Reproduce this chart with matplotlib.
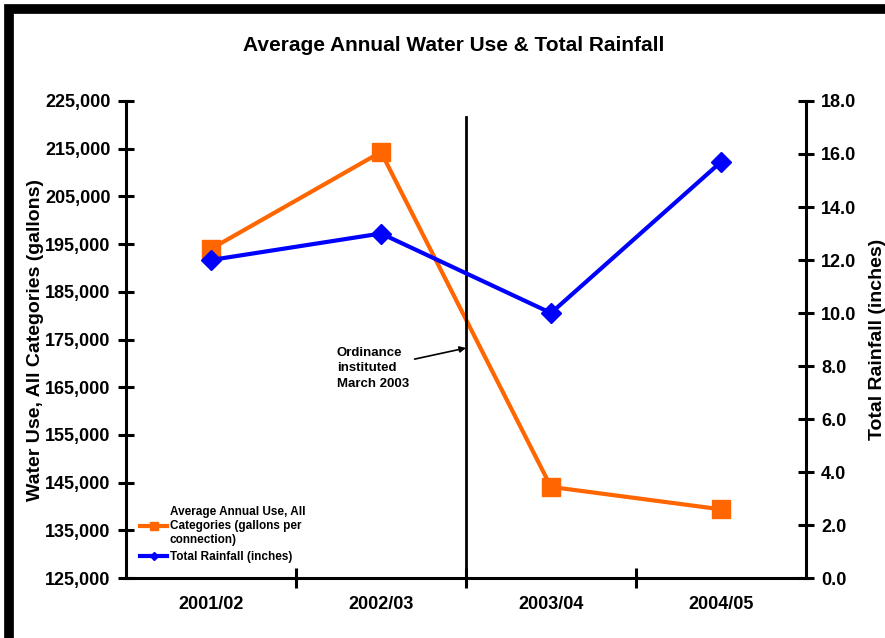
import matplotlib.pyplot as plt
from matplotlib.patches import Rectangle
from matplotlib.ticker import FuncFormatter

plt.rcParams['font.family'] = ['Liberation Sans', 'DejaVu Sans']
plt.rcParams['font.weight'] = 'bold'
plt.rcParams['axes.labelweight'] = 'bold'

# data
years = ['2001/02', '2002/03', '2003/04', '2004/05']
water_use = [194000, 214300, 144100, 139400]
rainfall = [12.0, 13.0, 10.0, 15.7]

fig = plt.figure(figsize=(8.85, 6.38), dpi=100)
ax = fig.add_axes([0.1424, 0.094, 0.7683, 0.7477])
ax2 = ax.twinx()

x = range(len(years))

l1, = ax.plot(x, water_use, color='#FF6600', lw=3, marker='s', ms=13,
              label='Average Annual Use, All\nCategories (gallons per\nconnection)', zorder=3)
l2, = ax2.plot(x, rainfall, color='#0000FF', lw=3, marker='D', ms=10,
               label='Total Rainfall (inches)', zorder=3)

ax.set_xlim(-0.5, 3.5)
ax.set_ylim(125000, 225000)
ax.set_yticks(range(125000, 225001, 10000))
ax.yaxis.set_major_formatter(FuncFormatter(lambda v, p: f'{int(v):,}'))
ax2.set_ylim(0, 18)
ax2.set_yticks([0, 2, 4, 6, 8, 10, 12, 14, 16, 18])
ax2.yaxis.set_major_formatter(FuncFormatter(lambda v, p: f'{v:.1f}'))

# category labels between the tick marks
ax.set_xticks([0.5, 1.5, 2.5], minor=False)
ax.set_xticklabels([])
ax.set_xticks(list(x), minor=True)
ax.set_xticklabels(years, minor=True)
ax.tick_params(axis='x', which='minor', length=0, pad=13, labelsize=13)
ax.tick_params(axis='x', which='major', direction='inout', length=14, width=2.2)

for a in (ax, ax2):
    a.patch.set_visible(False)
    a.spines['top'].set_visible(False)
    for s in a.spines.values():
        s.set_linewidth(2.2)
ax.spines['right'].set_visible(False)
ax2.spines['left'].set_visible(False)
ax2.spines['bottom'].set_visible(False)

ax.tick_params(axis='y', direction='inout', length=12, width=2.2, labelsize=13, pad=5)
ax2.tick_params(axis='y', direction='inout', length=12, width=2.2, labelsize=13, pad=5)

ax.set_ylabel('Water Use, All Categories (gallons)', fontsize=14)
ax.yaxis.set_label_coords(-0.121, 0.5)
ax2.set_ylabel('Total Rainfall (inches)', fontsize=14)
ax2.yaxis.set_label_coords(1.093, 0.5)

# ordinance marker
ax2.axvline(1.5, ymin=0, ymax=0.966, color='black', lw=2, zorder=2)
ax2.annotate('Ordinance\ninstituted\nMarch 2003', xy=(1.5, 8.68), xytext=(0.74, 7.92),
             fontsize=9.5, ha='left', va='center', linespacing=1.4,
             arrowprops=dict(arrowstyle='-|>', color='black', lw=1.2, mutation_scale=9,
                             shrinkA=2, shrinkB=0))

fig.text(0.513, 0.928, 'Average Annual Water Use & Total Rainfall', ha='center', va='center',
         fontsize=15)

ax2.legend([l1, l2], [l1.get_label(), l2.get_label()], loc='lower left',
           bbox_to_anchor=(0.005, 0.01), frameon=False, fontsize=8.5,
           handlelength=2.3, handletextpad=0.2, labelspacing=0.4, markerscale=0.45)

# black frame of the chart area
fig.patches.append(Rectangle((0.0102, -0.1), 1.2, 1.086, transform=fig.transFigure,
                             fill=False, ec='black', lw=7))

fig.savefig('out.png', dpi=100)
